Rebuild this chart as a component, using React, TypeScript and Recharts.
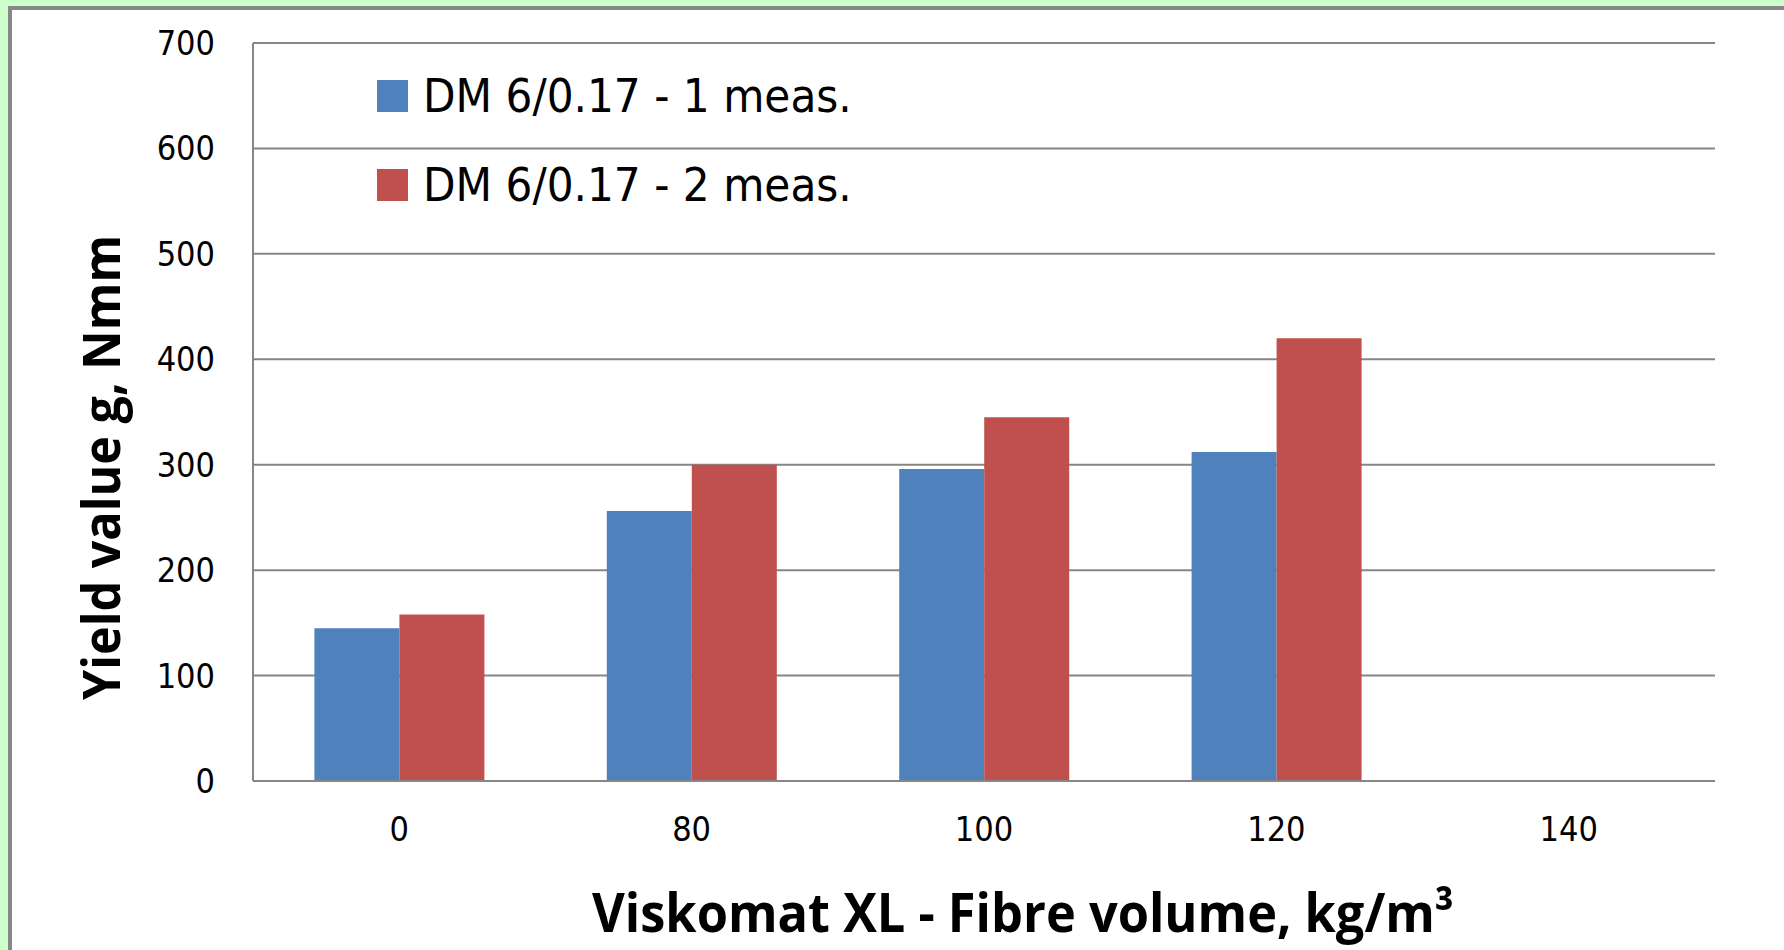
import React from "react";
import { BarChart, Bar, XAxis, YAxis, CartesianGrid, Legend } from "recharts";

// fibre volume, kg/m3
const categories = ["0", "80", "100", "120", "140"];
// yield value g, Nmm
const meas1 = [145, 256, 296, 312, null];
const meas2 = [158, 300, 345, 420, null];
const yTicks = [0, 100, 200, 300, 400, 500, 600, 700];

const SERIES = [
  { key: "meas1", label: "DM 6/0.17 - 1 meas.", color: "#4F81BD" },
  { key: "meas2", label: "DM 6/0.17 - 2 meas.", color: "#C0504D" },
];

const data = categories.map((c, i) => ({ volume: c, meas1: meas1[i], meas2: meas2[i] }));

const GRID = "#868686";
const TICK_FONT = "'DejaVu Sans Condensed', 'DejaVu Sans', sans-serif";
const TITLE_FONT = "'Liberation Sans Narrow', 'Open Sans', sans-serif";

const tickStyle = { fill: "#000", fontSize: 34, fontFamily: TICK_FONT };

function LegendBox() {
  return (
    <svg width={540} height={150} style={{ display: "block", overflow: "visible" }}>
      {SERIES.map((s, i) => (
        <g key={s.key} transform={`translate(0, ${i * 89})`}>
          <rect x={0} y={0} width={31} height={32} fill={s.color} />
          <text x={46} y={32} fontSize={47} fontFamily={TICK_FONT} fill="#000">
            {s.label}
          </text>
        </g>
      ))}
    </svg>
  );
}

export default function App() {
  return (
    <div
      style={{
        position: "absolute",
        left: 0,
        top: 0,
        width: 1784,
        height: 950,
        background: "#ccffcc",
        overflow: "hidden",
      }}
    >
      <div
        style={{
          position: "absolute",
          left: 8,
          top: 6,
          width: 1840,
          height: 1000,
          border: "4px solid #878787",
          background: "#fff",
        }}
      />
      <div style={{ position: "absolute", left: 0, top: 0 }}>
        <BarChart
          width={1784}
          height={950}
          data={data}
          margin={{ top: 43, right: 69, bottom: 109, left: 153 }}
          barGap={0}
          barCategoryGap="21%"
        >
          <CartesianGrid vertical={false} stroke={GRID} strokeWidth={2} />
          <XAxis
            dataKey="volume"
            height={60}
            axisLine={{ stroke: GRID, strokeWidth: 2 }}
            tickLine={false}
            tickSize={0}
            tickMargin={36}
            tick={tickStyle}
          />
          <YAxis
            width={100}
            domain={[0, 700]}
            ticks={yTicks}
            interval={0}
            axisLine={{ stroke: GRID, strokeWidth: 2 }}
            tickLine={false}
            tickSize={0}
            tickMargin={38}
            tick={tickStyle}
          />
          {/* middle/center keeps the legend from reserving plot space */}
          <Legend
            layout="horizontal"
            verticalAlign="middle"
            align="center"
            content={() => <LegendBox />}
            wrapperStyle={{ position: "absolute", left: 377, top: 80, width: 540, height: 150 }}
          />
          {SERIES.map((s) => (
            <Bar key={s.key} dataKey={s.key} name={s.label} fill={s.color} isAnimationActive={false} />
          ))}
        </BarChart>
      </div>
      <svg
        width={1784}
        height={950}
        style={{ position: "absolute", left: 0, top: 0, pointerEvents: "none" }}
      >
        <text
          x={592}
          y={932}
          fontSize={54}
          fontWeight="bold"
          fontFamily={TITLE_FONT}
          textLength={862}
          lengthAdjust="spacingAndGlyphs"
          fill="#000"
        >
          Viskomat XL - Fibre volume, kg/m³
        </text>
        <text
          transform="translate(120, 700) rotate(-90)"
          x={0}
          y={0}
          fontSize={52}
          fontWeight="bold"
          fontFamily={TITLE_FONT}
          textLength={465}
          lengthAdjust="spacingAndGlyphs"
          fill="#000"
        >
          Yield value g, Nmm
        </text>
      </svg>
    </div>
  );
}
